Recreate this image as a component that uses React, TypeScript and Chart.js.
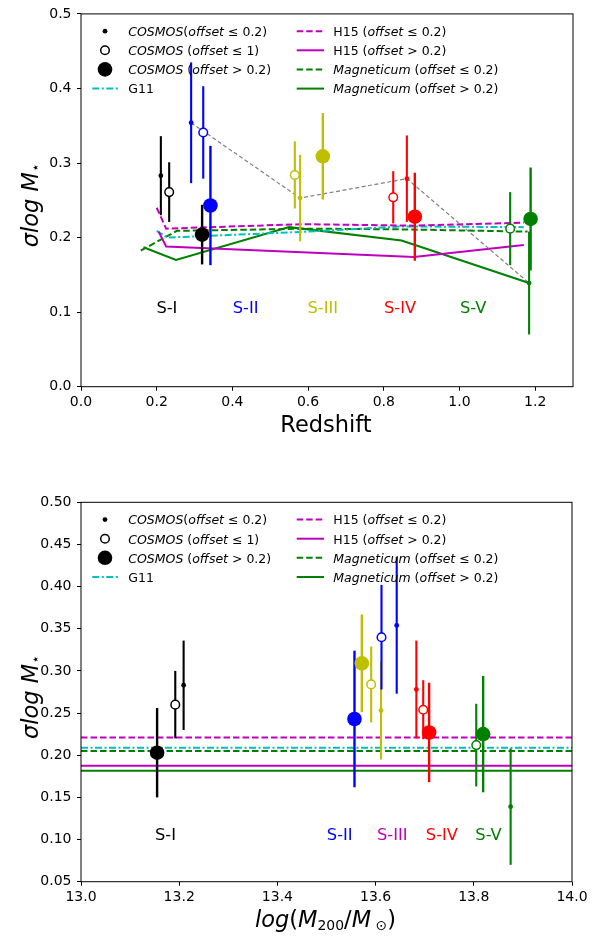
import React, { useEffect, useRef } from "react";
import { Chart, registerables } from "chart.js";

Chart.register(...registerables);

const FONT = "'DejaVu Sans', sans-serif";
const W = 606;
const H = 469;

// group colours: S-I .. S-V
const groupColors = ["#000000", "#0000ff", "#bfbf00", "#ff0000", "#008000"];
const MAGENTA = "#bf00bf";
const CYAN = "#00bfbf";
const GREEN = "#008000";
const GRAY = "#808080";

// ---------- top panel: sigma vs redshift ----------
const zSmall = [0.211, 0.291, 0.579, 0.861, 1.184];
const sSmallZ = [0.283, 0.354, 0.253, 0.279, 0.139];
const eSmallZ = [0.053, 0.081, 0.058, 0.058, 0.069];

const zOpen = [0.233, 0.323, 0.565, 0.825, 1.134];
const sOpenZ = [0.261, 0.341, 0.284, 0.254, 0.212];
const eOpenZ = [0.04, 0.062, 0.045, 0.035, 0.049];

const zBig = [0.32, 0.342, 0.639, 0.882, 1.188];
const sBigZ = [0.204, 0.243, 0.309, 0.228, 0.225];
const eBigZ = [0.04, 0.08, 0.058, 0.059, 0.069];

const h15DashZ = [0.2, 0.225, 0.585, 0.88, 1.17];
const h15DashS = [0.24, 0.212, 0.218, 0.216, 0.22];
const h15SolidZ = [0.205, 0.225, 0.88, 1.17];
const h15SolidS = [0.208, 0.188, 0.174, 0.19];
const g11Z = [0.2, 0.228, 0.6, 0.85, 1.17];
const g11S = [0.209, 0.2, 0.208, 0.215, 0.214];
const magDashZ = [0.158, 0.253, 0.6, 0.85, 1.18];
const magDashS = [0.1825, 0.209, 0.212, 0.211, 0.208];
const magSolidZ = [0.165, 0.251, 0.55, 0.847, 1.184];
const magSolidS = [0.187, 0.17, 0.214, 0.196, 0.139];

const xTicksTop = [0, 0.2, 0.4, 0.6, 0.8, 1.0, 1.2];
const yTicksTop = [0, 0.1, 0.2, 0.3, 0.4, 0.5];

const groupNames = ["S-I", "S-II", "S-III", "S-IV", "S-V"];
const labelZ = [0.227, 0.435, 0.639, 0.843, 1.036];
const labelColorsTop = ["#000000", "#0000ff", "#bfbf00", "#ff0000", "#008000"];

// ---------- bottom panel: sigma vs halo mass ----------
const mSmall = [13.209, 13.643, 13.611, 13.683, 13.875];
const sSmallM = [0.283, 0.354, 0.253, 0.278, 0.139];
const eSmallM = [0.053, 0.081, 0.058, 0.058, 0.069];

const mOpen = [13.192, 13.612, 13.591, 13.697, 13.805];
const sOpenM = [0.26, 0.34, 0.284, 0.254, 0.212];
const eOpenM = [0.04, 0.062, 0.045, 0.035, 0.049];

const mBig = [13.155, 13.557, 13.572, 13.709, 13.819];
const sBigM = [0.203, 0.243, 0.309, 0.227, 0.225];
const eBigM = [0.053, 0.081, 0.058, 0.059, 0.069];

const massRange = [13.0, 14.0];
const h15DashM = 0.221;
const h15SolidM = 0.1875;
const g11M = 0.209;
const magDashM = 0.205;
const magSolidM = 0.1815;

const xTicksBottom = [13.0, 13.2, 13.4, 13.6, 13.8, 14.0];
const yTicksBottom = [0.05, 0.1, 0.15, 0.2, 0.25, 0.3, 0.35, 0.4, 0.45, 0.5];

const labelM = [13.172, 13.527, 13.634, 13.735, 13.83];
const labelColorsBottom = ["#000000", "#0000ff", "#bf00bf", "#ff0000", "#008000"];

// ---------- rich text helpers ----------
type Seg = { t: string; it?: boolean; sub?: boolean };

function fontFor(s: Seg, size: number) {
  const sz = s.sub ? size * 0.62 : size;
  return `${s.it ? "italic " : ""}${sz}px ${FONT}`;
}

function richWidth(ctx: CanvasRenderingContext2D, segs: Seg[], size: number) {
  let w = 0;
  segs.forEach((s) => {
    ctx.font = fontFor(s, size);
    w += ctx.measureText(s.t).width;
  });
  return w;
}

function drawRich(ctx: CanvasRenderingContext2D, segs: Seg[], x: number, y: number, size: number) {
  segs.forEach((s) => {
    ctx.font = fontFor(s, size);
    ctx.fillText(s.t, x, y + (s.sub ? size * 0.1 : 0));
    x += ctx.measureText(s.t).width;
  });
}

const yTitle: Seg[] = [{ t: "σlog M", it: true }, { t: "⋆", sub: true }];
const xTitleTop: Seg[] = [{ t: "Redshift" }];
const xTitleBottom: Seg[] = [
  { t: "log", it: true },
  { t: "(" },
  { t: "M", it: true },
  { t: "200", sub: true },
  { t: "/" },
  { t: "M", it: true },
  { t: " ⊙", sub: true },
  { t: ")" },
];

const legendLeft: Seg[][] = [
  [{ t: "COSMOS", it: true }, { t: "(" }, { t: "offset", it: true }, { t: " ≤ 0.2)" }],
  [{ t: "COSMOS", it: true }, { t: " (" }, { t: "offset", it: true }, { t: " ≤ 1)" }],
  [{ t: "COSMOS", it: true }, { t: " (" }, { t: "offset", it: true }, { t: " > 0.2)" }],
  [{ t: "G11" }],
];
const legendRight: Seg[][] = [
  [{ t: "H15 (" }, { t: "offset", it: true }, { t: " ≤ 0.2)" }],
  [{ t: "H15 (" }, { t: "offset", it: true }, { t: " > 0.2)" }],
  [{ t: "Magneticum", it: true }, { t: " (" }, { t: "offset", it: true }, { t: " ≤ 0.2)" }],
  [{ t: "Magneticum", it: true }, { t: " (" }, { t: "offset", it: true }, { t: " > 0.2)" }],
];

const DASH = [6.5, 3];
const DASHDOT = [7, 2.5, 2, 2.5];

function drawLegend(ctx: CanvasRenderingContext2D, left: number, top: number) {
  const rows = [17.3, 36.4, 55.5, 74.7];
  ctx.save();
  // markers
  const mx = left + 24;
  ctx.fillStyle = "#000";
  ctx.beginPath();
  ctx.arc(mx, top + rows[0], 2.4, 0, Math.PI * 2);
  ctx.fill();
  ctx.beginPath();
  ctx.arc(mx, top + rows[1], 4.3, 0, Math.PI * 2);
  ctx.fillStyle = "#fff";
  ctx.fill();
  ctx.lineWidth = 1.5;
  ctx.strokeStyle = "#000";
  ctx.stroke();
  ctx.beginPath();
  ctx.arc(mx, top + rows[2], 7.3, 0, Math.PI * 2);
  ctx.fillStyle = "#000";
  ctx.fill();

  const seg = (x0: number, x1: number, y: number, color: string, dash: number[]) => {
    ctx.beginPath();
    ctx.setLineDash(dash);
    ctx.strokeStyle = color;
    ctx.lineWidth = 2;
    ctx.moveTo(x0, y);
    ctx.lineTo(x1, y);
    ctx.stroke();
  };
  seg(left + 11.3, left + 37.3, top + rows[3], CYAN, DASHDOT);
  seg(left + 215.7, left + 243, top + rows[0], MAGENTA, DASH);
  seg(left + 215.7, left + 243, top + rows[1], MAGENTA, []);
  seg(left + 215.7, left + 243, top + rows[2], GREEN, DASH);
  seg(left + 215.7, left + 243, top + rows[3], GREEN, []);
  ctx.setLineDash([]);

  ctx.fillStyle = "#000";
  ctx.textAlign = "left";
  ctx.textBaseline = "alphabetic";
  legendLeft.forEach((s, i) => drawRich(ctx, s, left + 47.3, top + rows[i] + 4.8, 12.5));
  legendRight.forEach((s, i) => drawRich(ctx, s, left + 252.3, top + rows[i] + 4.8, 12.5));
  ctx.restore();
}

const errorBars = {
  id: "errorBars",
  beforeDatasetDraw(chart: any, args: any) {
    const ds: any = chart.data.datasets[args.index];
    if (!ds.errs) return;
    const y = chart.scales.y;
    const ctx: CanvasRenderingContext2D = chart.ctx;
    ctx.save();
    ctx.lineWidth = ds.errWidth;
    args.meta.data.forEach((pt: any, i: number) => {
      const v = ds.data[i].y;
      const e = ds.errs[i];
      ctx.strokeStyle = groupColors[i];
      ctx.beginPath();
      ctx.moveTo(pt.x, y.getPixelForValue(v - e));
      ctx.lineTo(pt.x, y.getPixelForValue(v + e));
      ctx.stroke();
    });
    ctx.restore();
  },
};

interface PanelSpec {
  xMin: number;
  xMax: number;
  yMin: number;
  yMax: number;
  xTicks: number[];
  yTicks: number[];
  yDigits: number;
  padTop: number;
  padRight: number;
  xHeight: number;
  points: { x: number[]; y: number[]; e: number[] }[];
  lines: { x: number[]; y: number[]; color: string; dash: number[]; width: number }[];
  labelX: number[];
  labelColors: string[];
  xTitle: Seg[];
  xTitleBaseline: number;
}

const pts = (xs: number[], ys: number[]) => xs.map((x, i) => ({ x, y: ys[i] }));

function makeConfig(p: PanelSpec): any {
  const [small, open, big] = p.points;
  const deco = {
    id: "deco",
    afterDraw(chart: any) {
      const ctx: CanvasRenderingContext2D = chart.ctx;
      const a = chart.chartArea;
      const xs = chart.scales.x;
      const ys = chart.scales.y;
      ctx.save();
      ctx.strokeStyle = "#000";
      ctx.lineWidth = 1;
      ctx.strokeRect(a.left, a.top, a.right - a.left, a.bottom - a.top);

      ctx.font = `16.3px ${FONT}`;
      ctx.textAlign = "center";
      ctx.textBaseline = "alphabetic";
      groupNames.forEach((n, i) => {
        ctx.fillStyle = p.labelColors[i];
        ctx.fillText(n, xs.getPixelForValue(p.labelX[i]), ys.getPixelForValue(0.0995));
      });

      drawLegend(ctx, a.left, a.top);

      ctx.fillStyle = "#000";
      ctx.textAlign = "left";
      const tw = richWidth(ctx, p.xTitle, 22.5);
      drawRich(ctx, p.xTitle, (a.left + a.right) / 2 - tw / 2 - 1, p.xTitleBaseline, 22.5);

      const yw = richWidth(ctx, yTitle, 22.5);
      ctx.translate(38, (a.top + a.bottom) / 2 + 5);
      ctx.rotate(-Math.PI / 2);
      drawRich(ctx, yTitle, -yw / 2, 0, 22.5);
      ctx.restore();
    },
  };

  const lineSets = p.lines.map((l) => ({
    type: "scatter",
    data: pts(l.x, l.y),
    showLine: true,
    borderColor: l.color,
    borderWidth: l.width,
    borderDash: l.dash,
    pointRadius: 0,
    pointHoverRadius: 0,
    tension: 0,
    fill: false,
  }));

  return {
    type: "scatter",
    data: {
      datasets: [
        {
          data: pts(big.x, big.y),
          errs: big.e,
          errWidth: 2.4,
          pointRadius: 7.3,
          pointBorderWidth: 0,
          pointBackgroundColor: groupColors,
          pointBorderColor: groupColors,
        },
        {
          data: pts(open.x, open.y),
          errs: open.e,
          errWidth: 2.1,
          pointRadius: 4.3,
          pointBorderWidth: 1.5,
          pointBackgroundColor: "#ffffff",
          pointBorderColor: groupColors,
        },
        {
          data: pts(small.x, small.y),
          errs: small.e,
          errWidth: 2.1,
          pointRadius: 2.4,
          pointBorderWidth: 0,
          pointBackgroundColor: groupColors,
          pointBorderColor: groupColors,
        },
        ...lineSets,
      ],
    },
    options: {
      responsive: false,
      animation: false,
      devicePixelRatio: 1,
      layout: { padding: { left: 0, top: p.padTop, right: p.padRight, bottom: 0 } },
      plugins: { legend: { display: false }, tooltip: { enabled: false } },
      scales: {
        x: {
          type: "linear",
          min: p.xMin,
          max: p.xMax,
          afterBuildTicks: (s: any) => {
            s.ticks = p.xTicks.map((v) => ({ value: v }));
          },
          afterFit: (s: any) => {
            s.height = p.xHeight;
          },
          border: { display: false },
          grid: { drawOnChartArea: false, drawTicks: true, tickLength: 4, color: "#000", lineWidth: 1 },
          ticks: {
            padding: 3.5,
            color: "#000",
            font: { family: FONT, size: 14 },
            maxRotation: 0,
            autoSkip: false,
            callback: (v: any) => Number(v).toFixed(1),
          },
        },
        y: {
          type: "linear",
          min: p.yMin,
          max: p.yMax,
          afterBuildTicks: (s: any) => {
            s.ticks = p.yTicks.map((v) => ({ value: v }));
          },
          afterFit: (s: any) => {
            s.width = 81;
          },
          border: { display: false },
          grid: { drawOnChartArea: false, drawTicks: true, tickLength: 4, color: "#000", lineWidth: 1 },
          ticks: {
            padding: 5.5,
            color: "#000",
            font: { family: FONT, size: 14 },
            autoSkip: false,
            callback: (v: any) => Number(v).toFixed(p.yDigits),
          },
        },
      },
    },
    plugins: [errorBars, deco],
  };
}

const topSpec: PanelSpec = {
  xMin: 0,
  xMax: 1.3,
  yMin: 0,
  yMax: 0.5,
  xTicks: xTicksTop,
  yTicks: yTicksTop,
  yDigits: 1,
  padTop: 7,
  padRight: 33,
  xHeight: H - 386.7,
  points: [
    { x: zSmall, y: sSmallZ, e: eSmallZ },
    { x: zOpen, y: sOpenZ, e: eOpenZ },
    { x: zBig, y: sBigZ, e: eBigZ },
  ],
  lines: [
    { x: zSmall.slice(1), y: sSmallZ.slice(1), color: GRAY, dash: [4, 2.5], width: 1.2 },
    { x: h15DashZ, y: h15DashS, color: MAGENTA, dash: DASH, width: 2 },
    { x: h15SolidZ, y: h15SolidS, color: MAGENTA, dash: [], width: 2 },
    { x: g11Z, y: g11S, color: CYAN, dash: DASHDOT, width: 2 },
    { x: magDashZ, y: magDashS, color: GREEN, dash: DASH, width: 2 },
    { x: magSolidZ, y: magSolidS, color: GREEN, dash: [], width: 2 },
  ],
  labelX: labelZ,
  labelColors: labelColorsTop,
  xTitle: xTitleTop,
  xTitleBaseline: 431.5,
};

const flat = (v: number) => massRange.map(() => v);

const bottomSpec: PanelSpec = {
  xMin: 13,
  xMax: 14,
  yMin: 0.05,
  yMax: 0.5,
  xTicks: xTicksBottom,
  yTicks: yTicksBottom,
  yDigits: 2,
  padTop: 502.3 - H,
  padRight: 34,
  xHeight: H - (881.7 - H),
  points: [
    { x: mSmall, y: sSmallM, e: eSmallM },
    { x: mOpen, y: sOpenM, e: eOpenM },
    { x: mBig, y: sBigM, e: eBigM },
  ],
  lines: [
    { x: massRange, y: flat(h15DashM), color: MAGENTA, dash: DASH, width: 2 },
    { x: massRange, y: flat(h15SolidM), color: MAGENTA, dash: [], width: 2 },
    { x: massRange, y: flat(g11M), color: CYAN, dash: DASHDOT, width: 2 },
    { x: massRange, y: flat(magDashM), color: GREEN, dash: DASH, width: 2 },
    { x: massRange, y: flat(magSolidM), color: GREEN, dash: [], width: 2 },
  ],
  labelX: labelM,
  labelColors: labelColorsBottom,
  xTitle: xTitleBottom,
  xTitleBaseline: 927.3 - H,
};

function Panel({ spec, top }: { spec: PanelSpec; top: number }) {
  const canvasRef = useRef<HTMLCanvasElement | null>(null);

  useEffect(() => {
    if (!canvasRef.current) return;
    const chart = new Chart(canvasRef.current, makeConfig(spec));
    return () => chart.destroy();
  }, [spec]);

  return (
    <canvas
      ref={canvasRef}
      width={W}
      height={H}
      style={{ position: "absolute", left: 0, top, width: W, height: H }}
    />
  );
}

export default function App() {
  return (
    <div style={{ position: "absolute", left: 0, top: 0, width: W, height: 2 * H, background: "#fff" }}>
      <Panel spec={topSpec} top={0} />
      <Panel spec={bottomSpec} top={H} />
    </div>
  );
}
